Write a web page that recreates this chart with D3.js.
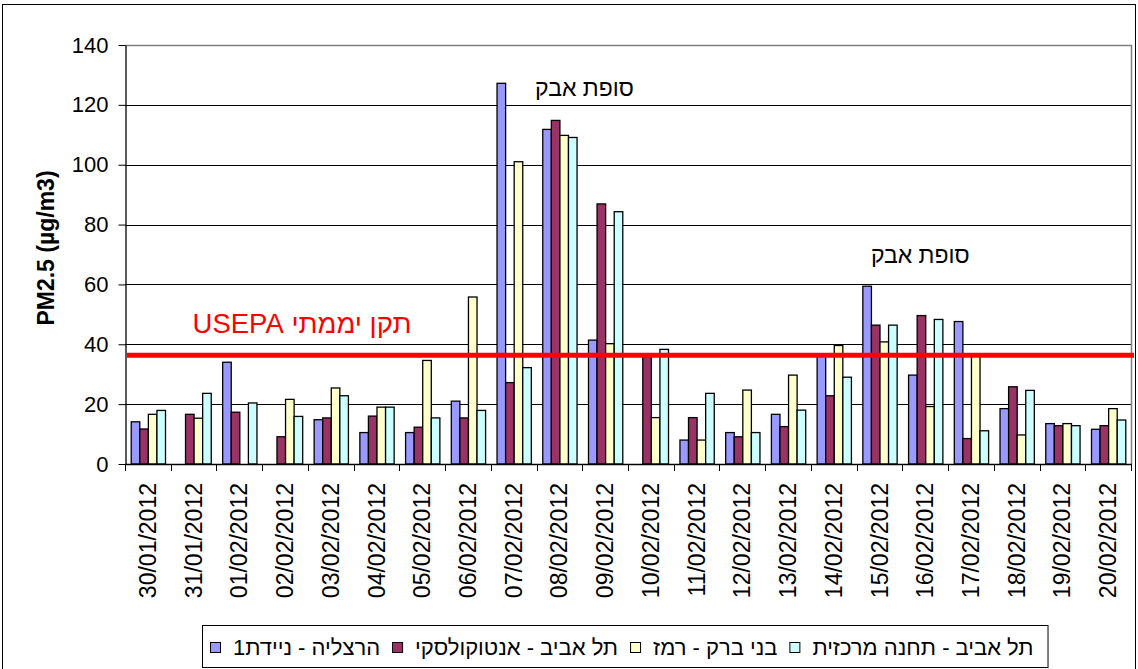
<!DOCTYPE html>
<html lang="he">
<head>
<meta charset="UTF-8"/>
<title>PM2.5</title>
<script src="https://cdn.jsdelivr.net/npm/d3@7/dist/d3.min.js"></script>
<style>
  * { margin: 0; padding: 0; }
  body { background: #fff; width: 1138px; height: 669px; overflow: hidden; }
  svg { display: block; font-family: "Liberation Sans", Arial, sans-serif; }
</style>
</head>
<body>
<svg id="chart" width="1138" height="669"></svg>
<script>
// --- data ---
const dates = ['30/01/2012', '31/01/2012', '01/02/2012', '02/02/2012', '03/02/2012', '04/02/2012',
  '05/02/2012', '06/02/2012', '07/02/2012', '08/02/2012', '09/02/2012', '10/02/2012', '11/02/2012',
  '12/02/2012', '13/02/2012', '14/02/2012', '15/02/2012', '16/02/2012', '17/02/2012', '18/02/2012',
  '19/02/2012', '20/02/2012']

const seriesNames = ['הרצליה - ניידת1', 'תל אביב - אנטוקולסקי', 'בני ברק - רמז', 'תל אביב - תחנה מרכזית']
const seriesColors = ['#9999FF', '#993366', '#FFFFCC', '#CCFFFF']

const herzliya   = [14.1, null, 34.0, null, 14.8, 10.5, 10.5, 21.0, 127.2, 111.8, 41.4, null, 8.0, 10.5, 16.6, 36.0, 59.4, 29.7, 47.6, 18.5, 13.5, 11.6]
const antokolsky = [11.7, 16.6, 17.3, 9.1, 15.4, 16.0, 12.3, 15.4, 27.2, 114.8, 86.9, 36.5, 15.5, 9.1, 12.5, 22.8, 46.4, 49.6, 8.5, 25.8, 12.8, 12.8]
const bneiBrak   = [16.6, 15.3, null, 21.6, 25.4, 19.0, 34.6, 55.8, 101.0, 109.8, 40.2, 15.5, 8.0, 24.7, 29.7, 39.6, 40.8, 19.2, 36.0, 9.7, 13.5, 18.5]
const centralSt  = [17.9, 23.6, 20.4, 15.9, 22.8, 19.0, 15.4, 17.9, 32.2, 109.1, 84.3, 38.3, 23.6, 10.5, 18.0, 29.0, 46.4, 48.3, 11.1, 24.6, 12.8, 14.7]
const allSeries = [herzliya, antokolsky, bneiBrak, centralSt]

const yTicks = [0, 20, 40, 60, 80, 100, 120, 140]
const standardValue = 36.3
const standardLabel = 'תקן יממתי USEPA'
const stormLabel = 'סופת אבק'
const stormDates = ['08/02/2012', '16/02/2012']
const stormValues = [123, 67]

// --- layout ---
const svg = d3.select('#chart')
const plot = { left: 125, top: 45, right: 1131, bottom: 464 }

// outer frame
svg.append('rect').attr('x', 2.5).attr('y', 4.5).attr('width', 1133).attr('height', 670)
  .attr('fill', '#fff').attr('stroke', '#000').attr('stroke-width', 1)

const x0 = d3.scaleBand().domain(dates).range([plot.left, plot.right]).paddingInner(0.25).paddingOuter(0.125)
const x1 = d3.scaleBand().domain(d3.range(allSeries.length)).range([0, x0.bandwidth()])
const y  = d3.scaleLinear().domain([0, 140]).range([plot.bottom, plot.top])

// gridlines
svg.append('g').selectAll('line').data(yTicks.filter(t => t > 0 && t < 140)).join('line')
  .attr('x1', plot.left).attr('x2', plot.right)
  .attr('y1', d => Math.round(y(d)) + 0.5).attr('y2', d => Math.round(y(d)) + 0.5)
  .attr('stroke', '#000').attr('stroke-width', 1)

// plot area border (top + right) in grey
svg.append('path')
  .attr('d', `M${plot.left},${plot.top + 0.5}H${plot.right + 0.5}V${plot.bottom}`)
  .attr('fill', 'none').attr('stroke', '#808080').attr('stroke-width', 1.5)

// bars
const groups = svg.append('g').selectAll('g').data(dates).join('g')
  .attr('transform', d => `translate(${x0(d)},0)`)

groups.selectAll('rect')
  .data((d, i) => allSeries.map((s, k) => ({ k, v: s[i] })).filter(o => o.v != null))
  .join('rect')
  .attr('x', d => x1(d.k) + 0.5)
  .attr('y', d => y(d.v))
  .attr('width', x1.bandwidth())
  .attr('height', d => y(0) - y(d.v))
  .attr('fill', d => seriesColors[d.k])
  .attr('stroke', '#000').attr('stroke-width', 1.3)

// y axis
const yAxis = svg.append('g').attr('transform', `translate(${plot.left + 0.5},0)`)
  .call(d3.axisLeft(y).tickValues(yTicks).tickSize(7).tickSizeOuter(0).tickPadding(10))
yAxis.select('.domain').attr('stroke', '#000').attr('stroke-width', 1.3)
yAxis.selectAll('line').attr('stroke', '#000')
yAxis.selectAll('text').attr('font-size', 22).attr('fill', '#000').attr('font-family', '"Liberation Sans", Arial, sans-serif')

// x axis: ticks at category boundaries
const step = x0.step()
const boundaries = d3.range(dates.length + 1).map(i => plot.left + i * step)
svg.append('line').attr('x1', plot.left).attr('x2', plot.right + 1)
  .attr('y1', plot.bottom + 0.5).attr('y2', plot.bottom + 0.5).attr('stroke', '#000').attr('stroke-width', 1.3)
svg.append('g').selectAll('line').data(boundaries).join('line')
  .attr('x1', d => Math.round(d) + 0.5).attr('x2', d => Math.round(d) + 0.5)
  .attr('y1', plot.bottom).attr('y2', plot.bottom + 7)
  .attr('stroke', '#000')

svg.append('g').selectAll('text').data(dates).join('text')
  .attr('transform', d => `translate(${x0(d) + x0.bandwidth() / 2 + 8},${plot.bottom + 19}) rotate(-90)`)
  .attr('text-anchor', 'end')
  .attr('font-size', 23)
  .text(d => d)

// y axis title
svg.append('text')
  .attr('transform', `translate(54,248) rotate(-90)`)
  .attr('text-anchor', 'middle')
  .attr('font-size', 23).attr('font-weight', 'bold')
  .text('PM2.5 (µg/m3)')

// daily standard line
svg.append('line')
  .attr('x1', plot.left + 2).attr('x2', plot.right + 3)
  .attr('y1', y(standardValue)).attr('y2', y(standardValue))
  .attr('stroke', '#FF0000').attr('stroke-width', 5)

svg.append('text')
  .attr('x', 302).attr('y', 333)
  .attr('direction', 'rtl').attr('text-anchor', 'middle')
  .attr('font-size', 27.5).attr('fill', '#FF0000')
  .text(standardLabel)

// dust storm notes
const noteShift = [25, -5]
svg.append('g').selectAll('text').data(stormDates).join('text')
  .attr('x', (d, i) => x0(d) + x0.bandwidth() / 2 + noteShift[i])
  .attr('y', (d, i) => y(stormValues[i]))
  .attr('direction', 'rtl').attr('text-anchor', 'middle')
  .attr('font-size', 23).attr('fill', '#000')
  .text(stormLabel)

// legend
const legend = svg.append('g')
const legendBox = legend.append('rect')
  .attr('fill', '#fff').attr('stroke', '#000').attr('stroke-width', 1)
let lx = 210
seriesNames.forEach((name, k) => {
  legend.append('rect')
    .attr('x', lx + 0.5).attr('y', 642.5).attr('width', 10).attr('height', 10)
    .attr('fill', seriesColors[k]).attr('stroke', '#000').attr('stroke-width', 1)
  const t = legend.append('text')
    .attr('x', lx + 23).attr('y', 655)
    .attr('font-size', 22).attr('fill', '#000')
    .text(name)
  lx += 23 + t.node().getComputedTextLength() + 12
})
legendBox.attr('x', 202.5).attr('y', 625.5).attr('width', lx - 202 + 2).attr('height', 42)
</script>
</body>
</html>
